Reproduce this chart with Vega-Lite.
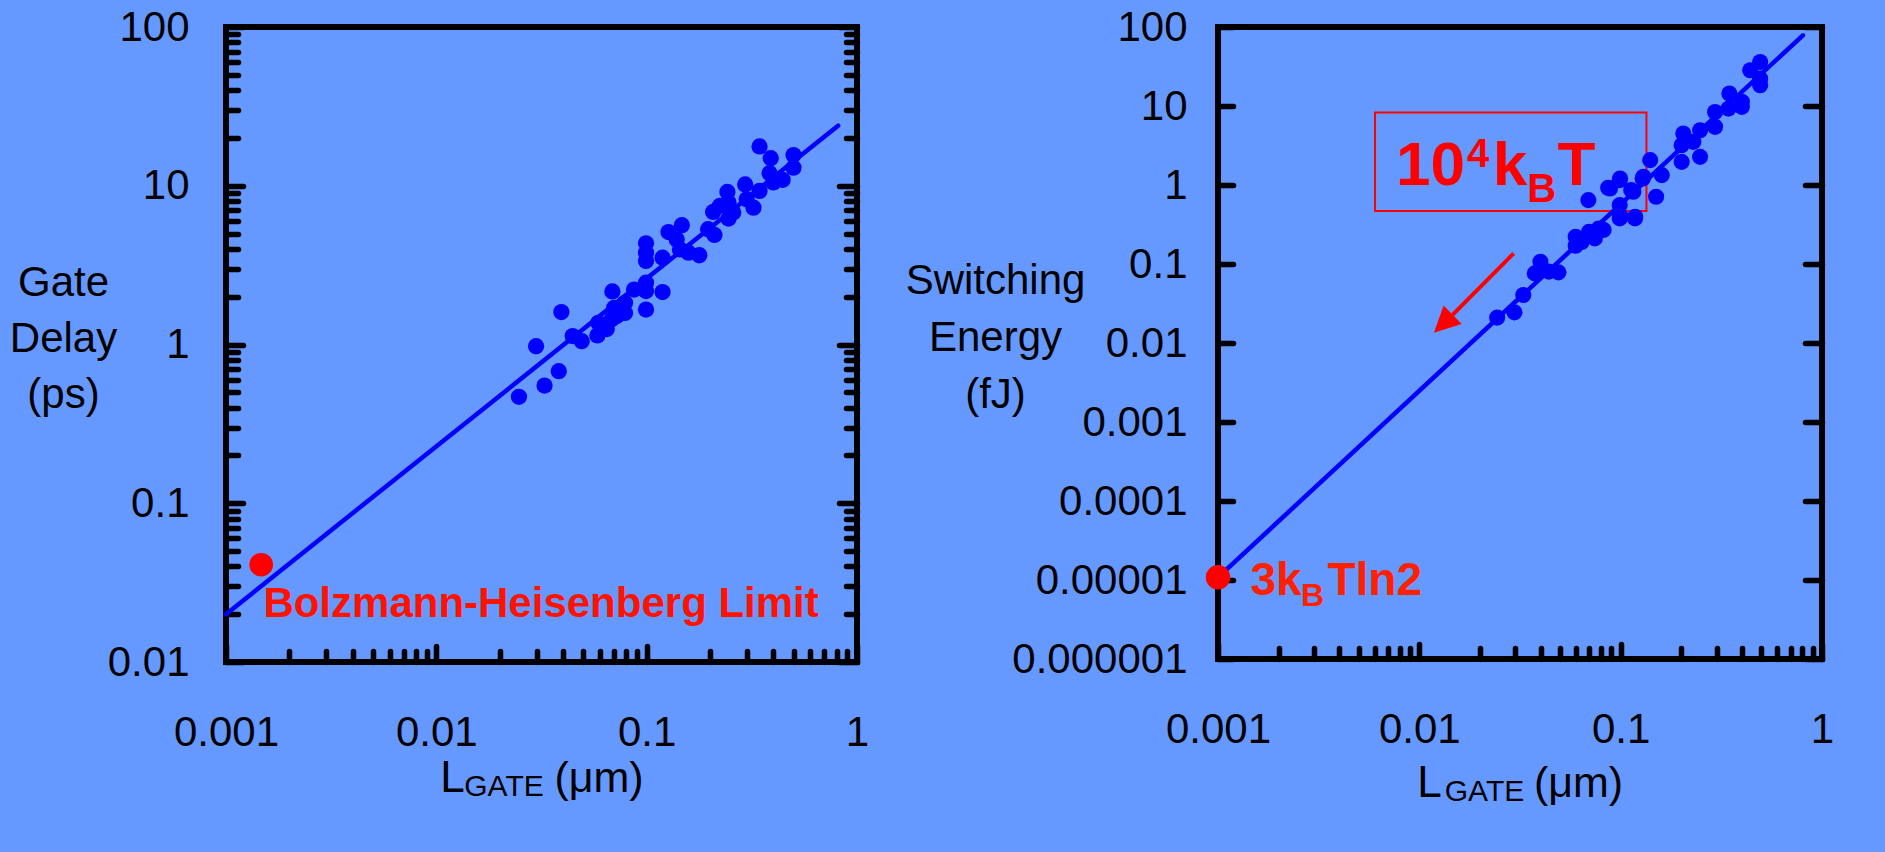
{
  "$schema": "https://vega.github.io/schema/vega-lite/v6.json",
  "background": "#6699FF",
  "autosize": {"type": "none"},
  "padding": {"left": 226, "top": 27, "right": 1659, "bottom": 825},
  "datasets": {
    "left_line": [{"x": 0.001, "y": 0.02}, {"x": 0.813, "y": 23.9}],
    "left_pts": [
      {"x": 0.0247, "y": 0.468}, {"x": 0.0298, "y": 0.975}, {"x": 0.0327, "y": 0.551}, {"x": 0.0382, "y": 0.679},
      {"x": 0.0393, "y": 1.6}, {"x": 0.0445, "y": 1.13}, {"x": 0.0491, "y": 1.05}, {"x": 0.0583, "y": 1.14},
      {"x": 0.0589, "y": 1.37}, {"x": 0.0625, "y": 1.3}, {"x": 0.0646, "y": 1.25}, {"x": 0.0682, "y": 1.44},
      {"x": 0.0687, "y": 2.16}, {"x": 0.07, "y": 1.7}, {"x": 0.0721, "y": 1.51}, {"x": 0.0748, "y": 1.66},
      {"x": 0.0789, "y": 1.83}, {"x": 0.0789, "y": 1.58}, {"x": 0.0871, "y": 2.22}, {"x": 0.0993, "y": 1.66},
      {"x": 0.0993, "y": 2.45}, {"x": 0.0993, "y": 2.17}, {"x": 0.0993, "y": 3.36}, {"x": 0.0993, "y": 3.79},
      {"x": 0.0993, "y": 4.34}, {"x": 0.119, "y": 2.14}, {"x": 0.119, "y": 3.52}, {"x": 0.127, "y": 5.11},
      {"x": 0.139, "y": 4.59}, {"x": 0.147, "y": 5.64}, {"x": 0.144, "y": 3.97}, {"x": 0.158, "y": 3.79},
      {"x": 0.178, "y": 3.65}, {"x": 0.196, "y": 5.32}, {"x": 0.21, "y": 4.9}, {"x": 0.207, "y": 6.84},
      {"x": 0.223, "y": 7.47}, {"x": 0.242, "y": 9.14}, {"x": 0.245, "y": 6.21}, {"x": 0.245, "y": 7.84},
      {"x": 0.258, "y": 6.78}, {"x": 0.294, "y": 10.2}, {"x": 0.299, "y": 8.22}, {"x": 0.322, "y": 7.28},
      {"x": 0.344, "y": 17.7}, {"x": 0.344, "y": 9.27}, {"x": 0.384, "y": 12.0}, {"x": 0.389, "y": 14.9},
      {"x": 0.4, "y": 10.5}, {"x": 0.443, "y": 10.9}, {"x": 0.499, "y": 15.6}, {"x": 0.499, "y": 13.0}
    ],
    "left_red": [{"x": 0.00147, "y": 0.041}],
    "left_text": [{"t": "Bolzmann-Heisenberg Limit", "x": 0.03148, "y": 0.0191}],
    "right_line": [{"x": 0.001, "y": 0.0000108}, {"x": 0.804, "y": 78.5}],
    "right_pts": [
      {"x": 0.02435, "y": 0.02094}, {"x": 0.02968, "y": 0.02443}, {"x": 0.03283, "y": 0.04055}, {"x": 0.03744, "y": 0.076},
      {"x": 0.03995, "y": 0.1069}, {"x": 0.04398, "y": 0.08}, {"x": 0.04909, "y": 0.0784}, {"x": 0.05976, "y": 0.2213},
      {"x": 0.05976, "y": 0.1702}, {"x": 0.064, "y": 0.19}, {"x": 0.0697, "y": 0.2559}, {"x": 0.0744, "y": 0.211},
      {"x": 0.0778, "y": 0.2818}, {"x": 0.0823, "y": 0.27}, {"x": 0.0691, "y": 0.644}, {"x": 0.0867, "y": 0.922},
      {"x": 0.0885, "y": 0.904}, {"x": 0.0989, "y": 1.153}, {"x": 0.0989, "y": 0.557}, {"x": 0.0989, "y": 0.378},
      {"x": 0.0993, "y": 1.208}, {"x": 0.0993, "y": 0.416}, {"x": 0.1178, "y": 0.378}, {"x": 0.118, "y": 0.396},
      {"x": 0.1128, "y": 0.862}, {"x": 0.1156, "y": 0.82}, {"x": 0.1286, "y": 1.208}, {"x": 0.1297, "y": 1.27},
      {"x": 0.1402, "y": 2.066}, {"x": 0.15, "y": 0.71}, {"x": 0.16, "y": 1.334}, {"x": 0.2009, "y": 3.19},
      {"x": 0.2009, "y": 1.964}, {"x": 0.2047, "y": 4.48}, {"x": 0.2296, "y": 3.52}, {"x": 0.248, "y": 4.94},
      {"x": 0.248, "y": 2.27}, {"x": 0.2944, "y": 8.41}, {"x": 0.2944, "y": 5.45}, {"x": 0.343, "y": 9.27},
      {"x": 0.3468, "y": 14.4}, {"x": 0.4, "y": 11.3}, {"x": 0.4, "y": 9.75}, {"x": 0.44, "y": 28.4},
      {"x": 0.493, "y": 36.1}, {"x": 0.493, "y": 22.2}, {"x": 0.493, "y": 18.3}
    ],
    "right_red": [{"x": 0.001, "y": 0.0000108}],
    "box": [{"x": 0.006026, "x2": 0.1343, "y": 0.4677, "y2": 8.254}],
    "arrow": [{"x": 0.0294, "y": 0.136}, {"x": 0.01462, "y": 0.02265}],
    "arrowhead": [{"x": 0.01315, "y": 0.0175}],
    "big": [{"t": "10", "x": 0.01137, "y": 1.006}, {"t": "k", "x": 0.02822, "y": 1.006}, {"t": "T", "x": 0.06038, "y": 1.006}],
    "small": [{"t": "4", "x": 0.01957, "y": 1.698}, {"t": "B", "x": 0.04047, "y": 0.613}],
    "eq": [{"t": "3k", "x": 0.001941, "y": 0.000006536}, {"t": "Tln2", "x": 0.006005, "y": 0.000006536}],
    "eqsub": [{"t": "B", "x": 0.002948, "y": 0.00000465}]
  },
  "hconcat": [
    {
      "width": 631,
      "height": 635,
      "resolve": {"axis": {"x": "independent", "y": "independent"}},
      "layer": [
        {
          "data": {"name": "left_line"},
          "mark": {"type": "line", "color": "#0000FF", "strokeWidth": 4.5, "strokeCap": "round"},
          "encoding": {
            "x": {"field": "x", "type": "quantitative", "scale": {"type": "log", "domain": [0.001, 1], "nice": false},
              "axis": {"orient": "bottom", "values": [0.001, 0.01, 0.1, 1], "format": "~f", "ticks": false, "tickSize": 0, "labelPadding": 83, "labelBaseline": "alphabetic", "labelAlign": "center",
                "title": "L", "titleFontSize": 44, "titleX": 226, "titleY": 129, "titleAlign": "center", "titleBaseline": "alphabetic"}},
            "y": {"field": "y", "type": "quantitative", "scale": {"type": "log", "domain": [0.01, 100], "nice": false},
              "axis": {"orient": "left", "values": [0.01, 0.1, 1, 10, 100], "format": "~f", "ticks": false, "tickSize": 0, "labelPadding": 37, "labelAlign": "right", "labelBaseline": "middle",
                "title": ["Gate", "Delay", "(ps)"], "titleFontSize": 42, "titleLineHeight": 56, "titleAngle": 0, "titleX": -163, "titleY": 268, "titleAlign": "center", "titleBaseline": "alphabetic"}}
          }
        },
        {
          "data": {"name": "left_pts"},
          "mark": {"type": "circle", "size": 265, "color": "#0000FF", "opacity": 1},
          "encoding": {
            "x": {"field": "x", "type": "quantitative", "scale": {"type": "log", "domain": [0.001, 1], "nice": false},
              "axis": {"orient": "bottom", "values": [0.001, 0.01, 0.1, 1], "labels": false, "tickSize": -16,
                "title": "GATE", "titleFontSize": 30, "titleX": 277.5, "titleY": 133, "titleAlign": "center", "titleBaseline": "alphabetic"}},
            "y": {"field": "y", "type": "quantitative", "scale": {"type": "log", "domain": [0.01, 100], "nice": false},
              "axis": {"orient": "left", "values": [0.01, 0.1, 1, 10, 100], "labels": false, "tickSize": -17, "title": null}}
          }
        },
        {
          "data": {"name": "left_red"},
          "mark": {"type": "circle", "size": 560, "color": "#FF0000", "opacity": 1},
          "encoding": {
            "x": {"field": "x", "type": "quantitative", "scale": {"type": "log", "domain": [0.001, 1], "nice": false},
              "axis": {"orient": "bottom", "values": [0.002, 0.003, 0.004, 0.005, 0.006, 0.007, 0.008, 0.009, 0.02, 0.03, 0.04, 0.05, 0.06, 0.07, 0.08, 0.09, 0.2, 0.3, 0.4, 0.5, 0.6, 0.7, 0.8, 0.9], "labels": false, "tickSize": -11,
                "title": "(μm)", "titleFontSize": 43, "titleX": 372.5, "titleY": 129, "titleAlign": "center", "titleBaseline": "alphabetic"}},
            "y": {"field": "y", "type": "quantitative", "scale": {"type": "log", "domain": [0.01, 100], "nice": false},
              "axis": {"orient": "left", "values": [0.02, 0.03, 0.04, 0.05, 0.06, 0.07, 0.08, 0.09, 0.2, 0.3, 0.4, 0.5, 0.6, 0.7, 0.8, 0.9, 2, 3, 4, 5, 6, 7, 8, 9, 20, 30, 40, 50, 60, 70, 80, 90], "labels": false, "tickSize": -12, "title": null}}
          }
        },
        {
          "data": {"name": "left_text"},
          "mark": {"type": "text", "font": "Liberation Sans", "fontSize": 42, "fontWeight": "bold", "color": "#FF1200", "align": "center", "baseline": "alphabetic"},
          "encoding": {
            "x": {"field": "x", "type": "quantitative", "scale": {"type": "log", "domain": [0.001, 1], "nice": false}, "axis": null},
            "y": {"field": "y", "type": "quantitative", "scale": {"type": "log", "domain": [0.01, 100], "nice": false},
              "axis": {"orient": "right", "values": [0.01, 0.02, 0.03, 0.04, 0.05, 0.06, 0.07, 0.08, 0.09, 0.1, 0.2, 0.3, 0.4, 0.5, 0.6, 0.7, 0.8, 0.9, 1, 2, 3, 4, 5, 6, 7, 8, 9, 10, 20, 30, 40, 50, 60, 70, 80, 90, 100], "labels": false,
                "tickSize": {"condition": {"test": "abs(log(datum.value)/LN10 - round(log(datum.value)/LN10)) < 0.001", "value": -18}, "value": -11}, "title": null}},
            "text": {"field": "t"}
          }
        }
      ]
    },
    {
      "width": 604,
      "height": 632,
      "resolve": {"axis": {"x": "independent", "y": "independent"}},
      "layer": [
        {
          "data": {"name": "box"},
          "mark": {"type": "rect", "fill": "#FF0000", "fillOpacity": 0, "stroke": "#FF0000", "strokeWidth": 2},
          "encoding": {
            "x": {"field": "x", "type": "quantitative", "scale": {"type": "log", "domain": [0.001, 1], "nice": false}, "axis": null},
            "x2": {"field": "x2"},
            "y": {"field": "y", "type": "quantitative", "scale": {"type": "log", "domain": [0.000001, 100], "nice": false}, "axis": null},
            "y2": {"field": "y2"}
          }
        },
        {
          "data": {"name": "right_line"},
          "mark": {"type": "line", "color": "#0000FF", "strokeWidth": 4.5, "strokeCap": "round"},
          "encoding": {
            "x": {"field": "x", "type": "quantitative", "scale": {"type": "log", "domain": [0.001, 1], "nice": false},
              "axis": {"orient": "bottom", "values": [0.001, 0.01, 0.1, 1], "format": "~f", "ticks": false, "tickSize": 0, "labelPadding": 83, "labelBaseline": "alphabetic", "labelAlign": "center",
                "title": "L", "titleFontSize": 44, "titleX": 211, "titleY": 137, "titleAlign": "center", "titleBaseline": "alphabetic"}},
            "y": {"field": "y", "type": "quantitative", "scale": {"type": "log", "domain": [0.000001, 100], "nice": false},
              "axis": {"orient": "left", "values": [0.000001, 0.00001, 0.0001, 0.001, 0.01, 0.1, 1, 10, 100], "format": "~f", "ticks": false, "tickSize": 0, "labelPadding": 31, "labelAlign": "right", "labelBaseline": "middle",
                "title": ["Switching", "Energy", "(fJ)"], "titleFontSize": 42, "titleLineHeight": 57, "titleAngle": 0, "titleX": -223, "titleY": 266, "titleAlign": "center", "titleBaseline": "alphabetic"}}
          }
        },
        {
          "data": {"name": "right_pts"},
          "mark": {"type": "circle", "size": 260, "color": "#0000FF", "opacity": 1},
          "encoding": {
            "x": {"field": "x", "type": "quantitative", "scale": {"type": "log", "domain": [0.001, 1], "nice": false},
              "axis": {"orient": "bottom", "values": [0.001, 0.01, 0.1, 1], "labels": false, "tickSize": -15,
                "title": "GATE", "titleFontSize": 30, "titleX": 266, "titleY": 141, "titleAlign": "center", "titleBaseline": "alphabetic"}},
            "y": {"field": "y", "type": "quantitative", "scale": {"type": "log", "domain": [0.000001, 100], "nice": false},
              "axis": {"orient": "left", "values": [0.000001, 0.00001, 0.0001, 0.001, 0.01, 0.1, 1, 10, 100], "labels": false, "tickSize": -15, "title": null}}
          }
        },
        {
          "data": {"name": "right_red"},
          "mark": {"type": "circle", "size": 600, "color": "#FF0000", "opacity": 1},
          "encoding": {
            "x": {"field": "x", "type": "quantitative", "scale": {"type": "log", "domain": [0.001, 1], "nice": false},
              "axis": {"orient": "bottom", "values": [0.002, 0.003, 0.004, 0.005, 0.006, 0.007, 0.008, 0.009, 0.02, 0.03, 0.04, 0.05, 0.06, 0.07, 0.08, 0.09, 0.2, 0.3, 0.4, 0.5, 0.6, 0.7, 0.8, 0.9], "labels": false, "tickSize": -11,
                "title": "(μm)", "titleFontSize": 43, "titleX": 360, "titleY": 137, "titleAlign": "center", "titleBaseline": "alphabetic"}},
            "y": {"field": "y", "type": "quantitative", "scale": {"type": "log", "domain": [0.000001, 100], "nice": false},
              "axis": {"orient": "right", "values": [0.000001, 0.00001, 0.0001, 0.001, 0.01, 0.1, 1, 10, 100], "labels": false, "tickSize": -17, "title": null}}
          }
        },
        {
          "data": {"name": "arrow"},
          "mark": {"type": "line", "color": "#FF0000", "strokeWidth": 4},
          "encoding": {
            "x": {"field": "x", "type": "quantitative", "scale": {"type": "log", "domain": [0.001, 1], "nice": false}, "axis": null},
            "y": {"field": "y", "type": "quantitative", "scale": {"type": "log", "domain": [0.000001, 100], "nice": false}, "axis": null}
          }
        },
        {
          "data": {"name": "arrowhead"},
          "mark": {"type": "point", "shape": "M0,-1L1,1L-1,1Z", "size": 676, "angle": 226, "filled": true, "color": "#FF0000", "opacity": 1, "strokeWidth": 0},
          "encoding": {
            "x": {"field": "x", "type": "quantitative", "scale": {"type": "log", "domain": [0.001, 1], "nice": false}, "axis": null},
            "y": {"field": "y", "type": "quantitative", "scale": {"type": "log", "domain": [0.000001, 100], "nice": false}, "axis": null}
          }
        },
        {
          "data": {"name": "big"},
          "mark": {"type": "text", "font": "Liberation Sans", "fontSize": 62, "fontWeight": "bold", "color": "#FF0000", "align": "center", "baseline": "alphabetic"},
          "encoding": {
            "x": {"field": "x", "type": "quantitative", "scale": {"type": "log", "domain": [0.001, 1], "nice": false}, "axis": null},
            "y": {"field": "y", "type": "quantitative", "scale": {"type": "log", "domain": [0.000001, 100], "nice": false}, "axis": null},
            "text": {"field": "t"}
          }
        },
        {
          "data": {"name": "small"},
          "mark": {"type": "text", "font": "Liberation Sans", "fontSize": 40, "fontWeight": "bold", "color": "#FF0000", "align": "center", "baseline": "alphabetic"},
          "encoding": {
            "x": {"field": "x", "type": "quantitative", "scale": {"type": "log", "domain": [0.001, 1], "nice": false}, "axis": null},
            "y": {"field": "y", "type": "quantitative", "scale": {"type": "log", "domain": [0.000001, 100], "nice": false}, "axis": null},
            "text": {"field": "t"}
          }
        },
        {
          "data": {"name": "eq"},
          "mark": {"type": "text", "font": "Liberation Sans", "fontSize": 46, "fontWeight": "bold", "color": "#FF2000", "align": "center", "baseline": "alphabetic"},
          "encoding": {
            "x": {"field": "x", "type": "quantitative", "scale": {"type": "log", "domain": [0.001, 1], "nice": false}, "axis": null},
            "y": {"field": "y", "type": "quantitative", "scale": {"type": "log", "domain": [0.000001, 100], "nice": false}, "axis": null},
            "text": {"field": "t"}
          }
        },
        {
          "data": {"name": "eqsub"},
          "mark": {"type": "text", "font": "Liberation Sans", "fontSize": 32, "fontWeight": "bold", "color": "#FF2000", "align": "center", "baseline": "alphabetic"},
          "encoding": {
            "x": {"field": "x", "type": "quantitative", "scale": {"type": "log", "domain": [0.001, 1], "nice": false}, "axis": null},
            "y": {"field": "y", "type": "quantitative", "scale": {"type": "log", "domain": [0.000001, 100], "nice": false}, "axis": null},
            "text": {"field": "t"}
          }
        }
      ]
    }
  ],
  "spacing": 361,
  "bounds": "flush",
  "config": {
    "font": "Liberation Sans",
    "view": {"stroke": "#000000", "strokeWidth": 6},
    "axis": {
      "domain": false, "grid": false,
      "labelFont": "Liberation Sans", "titleFont": "Liberation Sans",
      "labelFontSize": 42, "labelColor": "#000000", "titleColor": "#000000", "titleFontWeight": "normal",
      "tickColor": "#000000", "tickWidth": 5.5, "tickCap": "round",
      "labelOverlap": false, "labelFlush": false, "labelBound": false
    }
  }
}
